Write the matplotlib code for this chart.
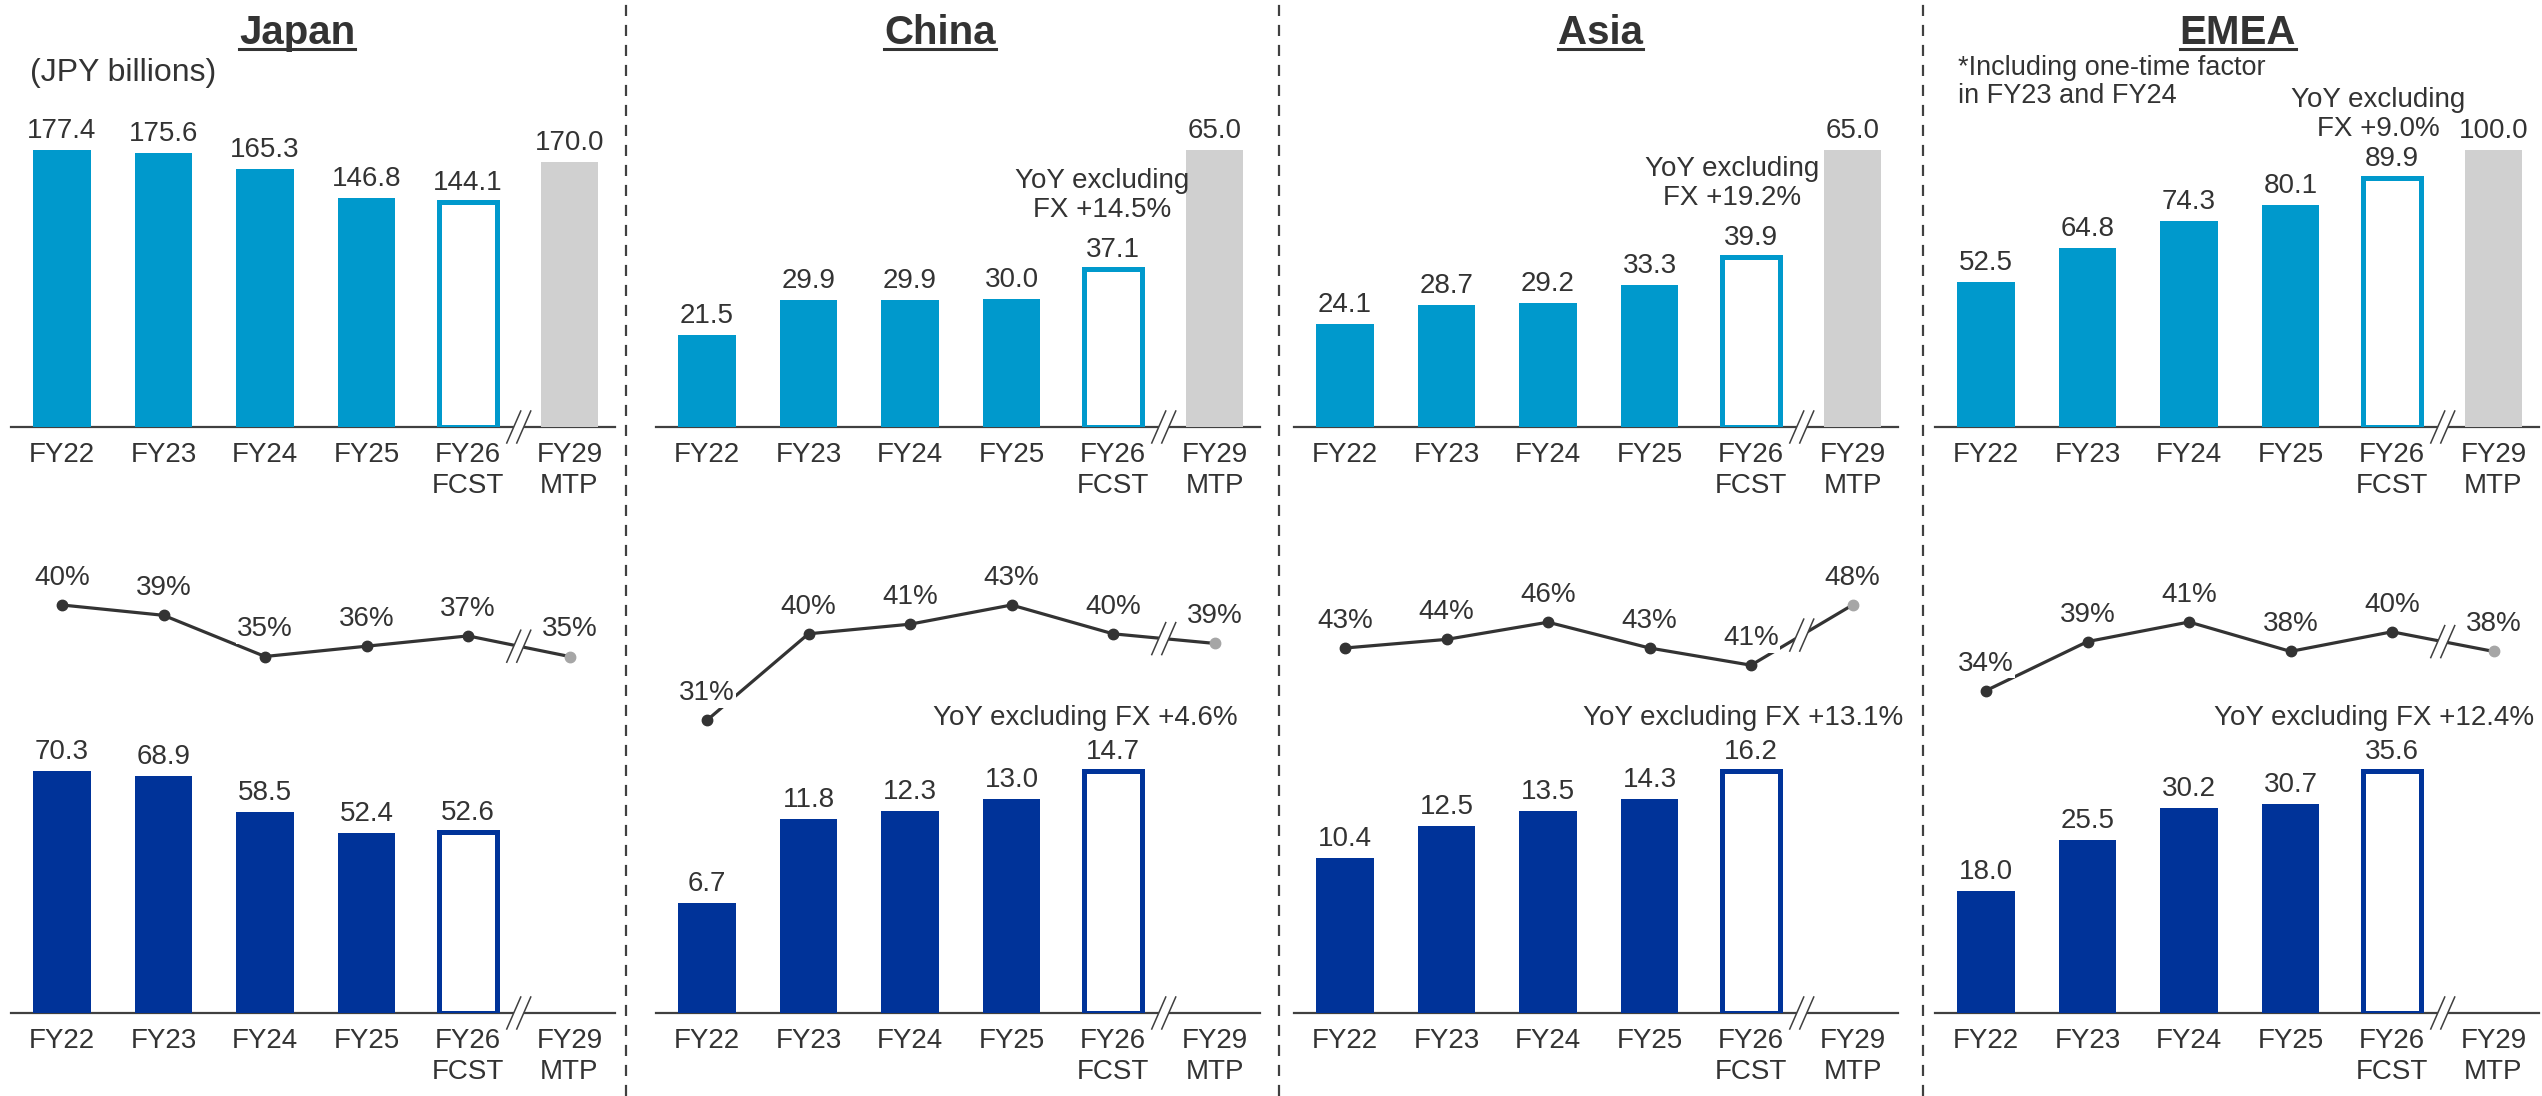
import matplotlib
matplotlib.use("Agg")
import matplotlib.pyplot as plt
from matplotlib.lines import Line2D
from matplotlib.patches import Polygon
from matplotlib.transforms import IdentityTransform

# ---------------------------------------------------------------- data
categories = ["FY22", "FY23", "FY24", "FY25", "FY26\nFCST", "FY29\nMTP"]
regions = ["Japan", "China", "Asia", "EMEA"]

# revenue, JPY billions (FY26 forecast, FY29 mid-term plan)
revenue_japan = [177.4, 175.6, 165.3, 146.8, 144.1, 170.0]
revenue_china = [21.5, 29.9, 29.9, 30.0, 37.1, 65.0]
revenue_asia = [24.1, 28.7, 29.2, 33.3, 39.9, 65.0]
revenue_emea = [52.5, 64.8, 74.3, 80.1, 89.9, 100.0]

# margin, %
margin_japan = [40, 39, 35, 36, 37, 35]
margin_china = [31, 40, 41, 43, 40, 39]
margin_asia = [43, 44, 46, 43, 41, 48]
margin_emea = [34, 39, 41, 38, 40, 38]

# profit, JPY billions (no FY29 figure)
profit_japan = [70.3, 68.9, 58.5, 52.4, 52.6]
profit_china = [6.7, 11.8, 12.3, 13.0, 14.7]
profit_asia = [10.4, 12.5, 13.5, 14.3, 16.2]
profit_emea = [18.0, 25.5, 30.2, 30.7, 35.6]

revenue_notes = [None, "YoY excluding\nFX +14.5%", "YoY excluding\nFX +19.2%",
                 "YoY excluding\nFX +9.0%"]
profit_notes = [None, "YoY excluding FX +4.6%", "YoY excluding FX +13.1%",
                "YoY excluding FX +12.4%"]
unit_note = "(JPY billions)"
emea_note = "*Including one-time factor\nin FY23 and FY24"

revenues = [revenue_japan, revenue_china, revenue_asia, revenue_emea]
margins = [margin_japan, margin_china, margin_asia, margin_emea]
profits = [profit_japan, profit_china, profit_asia, profit_emea]

# ---------------------------------------------------------------- style
W, H, DPI = 2542, 1096, 100
plt.rcParams["font.family"] = ["Liberation Sans", "DejaVu Sans"]
FS = 20
TXT = "#333333"
AXC = "#404040"
C_TOP = "#0099CC"
C_LOW = "#003399"
C_PLAN = "#D0D0D0"
C_LINE = "#333333"
C_PLAN_DOT = "#A6A6A6"
BAR_W = 0.57
TICK_LS = 1.27

# layout in pixels
STEP = 101.5
first_centre = [62, 707, 1345, 1986]
XLIM = (-0.5, 5.45)
dividers = [626, 1279, 1923]
title_x = [297, 940, 1601, 2238]
TOP_AX = (100, 427)      # (top, baseline) of revenue row
TOP_BAR_PX = 277         # height of the tallest revenue bar
LINE_AX = (560, 740)
# (margin value, its pixel row, pixels per point) for each region
line_scale = [(40, 605, 10.3), (43, 605, 9.6), (48, 605, 8.6), (41, 622, 9.8)]
LOW_AX = (720, 1013)
LOW_BAR_PX = 242
revenue_note_off = [(0, 0), (-11, 46), (-19, 46), (-14, 36)]
profit_note_dx = [0, -28, -8, -18]

fig = plt.figure(figsize=(W / DPI, H / DPI), dpi=DPI)
fig.patch.set_facecolor("white")


def px_axes(left, top, right, bottom):
    ax = fig.add_axes([left / W, 1 - bottom / H, (right - left) / W, (bottom - top) / H])
    ax.set_facecolor("none")
    return ax


def style_bar_axes(ax, labels):
    for s in ("top", "left", "right"):
        ax.spines[s].set_visible(False)
    ax.spines["bottom"].set_color(AXC)
    ax.spines["bottom"].set_linewidth(1.6)
    ax.set_yticks([])
    ax.set_xticks(range(len(labels)))
    ax.set_xticklabels(labels, fontsize=FS, color=TXT, linespacing=TICK_LS)
    ax.tick_params(axis="x", length=0, pad=10.5)
    ax.set_xlim(*XLIM)


def break_mark(ax, x, y):
    fig.canvas.draw()
    cx, cy = ax.transData.transform((x, y))
    dx, dy, gap = 7, 16, 5
    mask = Polygon([(cx - dx - gap, cy - dy), (cx + dx - gap, cy + dy),
                    (cx + dx + gap, cy + dy), (cx - dx + gap, cy - dy)],
                   closed=True, facecolor="white", edgecolor="none",
                   transform=IdentityTransform(), zorder=20)
    fig.add_artist(mask)
    for off in (-gap, gap):
        fig.add_artist(Line2D([cx - dx + off, cx + dx + off], [cy - dy, cy + dy],
                              color=AXC, lw=1.1, transform=IdentityTransform(),
                              zorder=21))


def bars(ax, values, fill):
    n = len(values)
    colors = [fill] * 4 + ["white"] + [C_PLAN]
    edges = [fill] * 4 + [fill] + [C_PLAN]
    lws = [0, 0, 0, 0, 3.6, 0]
    ax.bar(range(n), values, width=BAR_W, color=colors[:n], edgecolor=edges[:n],
           linewidth=lws[:n], zorder=3)
    for i, v in enumerate(values):
        ax.annotate(f"{v:.1f}", (i, v), xytext=(0, 12), textcoords="offset pixels",
                    ha="center", va="baseline", fontsize=FS, color=TXT, zorder=6)


for p in range(4):
    c0 = first_centre[p]
    left = c0 + XLIM[0] * STEP
    right = c0 + XLIM[1] * STEP

    # revenue row
    ax1 = px_axes(left, TOP_AX[0], right, TOP_AX[1])
    style_bar_axes(ax1, categories)
    rev = revenues[p]
    ax1.set_ylim(0, max(rev) * (TOP_AX[1] - TOP_AX[0]) / TOP_BAR_PX)
    bars(ax1, rev, C_TOP)
    if revenue_notes[p]:
        ax1.annotate(revenue_notes[p], (4, rev[4]), xytext=revenue_note_off[p],
                     textcoords="offset pixels", ha="center", va="bottom",
                     multialignment="center", fontsize=FS, color=TXT,
                     linespacing=1.13, zorder=6)

    # margin row
    ax2 = px_axes(left, LINE_AX[0], right, LINE_AX[1])
    ax2.axis("off")
    ax2.set_xlim(*XLIM)
    v0, y0, ppp = line_scale[p]
    ax2.set_ylim(v0 - (LINE_AX[1] - y0) / ppp, v0 + (y0 - LINE_AX[0]) / ppp)
    m = margins[p]
    ax2.plot(range(6), m, color=C_LINE, lw=2.3, zorder=2)
    ax2.plot(range(5), m[:5], "o", color=C_LINE, ms=7.5, zorder=3)
    ax2.plot([5], [m[5]], "o", color=C_PLAN_DOT, ms=7.5, zorder=3)
    for i, v in enumerate(m):
        ax2.annotate(f"{v}%", (i, v), xytext=(0, 20), textcoords="offset pixels",
                     ha="center", va="baseline", fontsize=FS, color=TXT, zorder=5,
                     bbox=dict(boxstyle="square,pad=0.05", fc="white", ec="none"))

    # profit row
    ax3 = px_axes(left, LOW_AX[0], right, LOW_AX[1])
    style_bar_axes(ax3, categories)
    pro = profits[p]
    ax3.set_ylim(0, max(pro) * (LOW_AX[1] - LOW_AX[0]) / LOW_BAR_PX)
    bars(ax3, pro, C_LOW)
    if profit_notes[p]:
        ax3.annotate(profit_notes[p], (4, pro[4]), xytext=(profit_note_dx[p], 46),
                     textcoords="offset pixels", ha="center", va="baseline",
                     fontsize=FS, color=TXT, zorder=6)

    break_mark(ax1, 4.5, 0)
    break_mark(ax2, 4.5, (m[4] + m[5]) / 2)
    break_mark(ax3, 4.5, 0)

    # region title, bold and underlined
    t = fig.text(title_x[p] / W, 1 - 44 / H, regions[p], ha="center", va="baseline",
                 fontsize=29, fontweight="bold", color=TXT)
    fig.canvas.draw()
    bb = t.get_window_extent()
    uy = H - 49
    fig.add_artist(Line2D([bb.x0, bb.x1], [uy, uy], color=TXT, lw=2.2,
                          transform=IdentityTransform()))

fig.text(30 / W, 1 - 73 / H, unit_note, ha="left", va="center", fontsize=23, color=TXT)
fig.text(1958 / W, 1 - 55 / H, emea_note, ha="left", va="top", fontsize=19.5, color=TXT,
         linespacing=1.1)

for x in dividers:
    fig.add_artist(Line2D([x, x], [0, H], color=AXC, lw=1.6, ls=(0, (5, 4)),
                          transform=IdentityTransform()))

fig.savefig("out.png", dpi=DPI, facecolor="white")
